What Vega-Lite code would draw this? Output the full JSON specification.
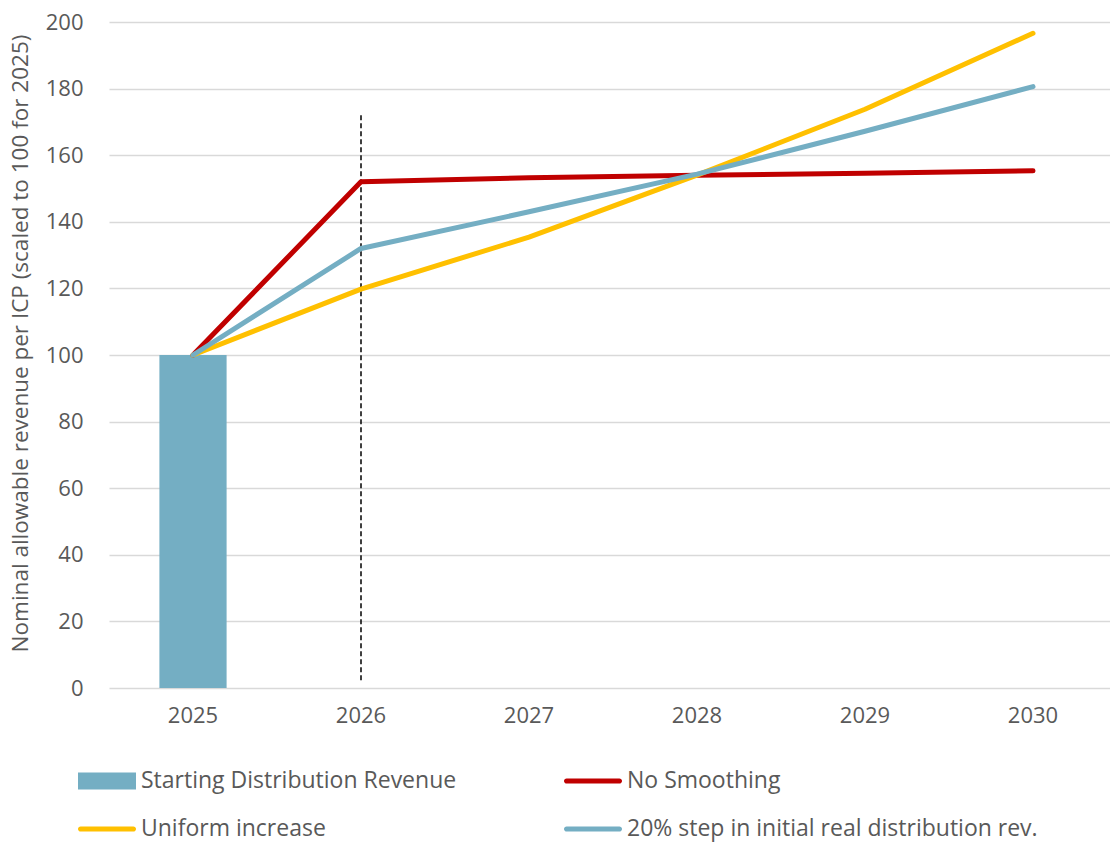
{
  "$schema": "https://vega.github.io/schema/vega-lite/v6.json",
  "autosize": "none",
  "width": 1008,
  "height": 666,
  "padding": {"left": 109, "top": 22, "right": 0, "bottom": 155},
  "background": "white",
  "config": {
    "view": {"stroke": null},
    "font": "Open Sans",
    "axis": {"labelColor": "#595959", "titleColor": "#595959", "labelFont": "Open Sans", "titleFont": "Open Sans"},
    "legend": {"labelFont": "Open Sans"}
  },
  "datasets": {
    "start": [
      {"year": "2025", "value": 100, "series": "Starting Distribution Revenue"}
    ],
    "paths": [
      {"year": "2025", "value": 100, "series": "No Smoothing"},
      {"year": "2026", "value": 152, "series": "No Smoothing"},
      {"year": "2027", "value": 153.2, "series": "No Smoothing"},
      {"year": "2028", "value": 154, "series": "No Smoothing"},
      {"year": "2029", "value": 154.6, "series": "No Smoothing"},
      {"year": "2030", "value": 155.3, "series": "No Smoothing"},
      {"year": "2025", "value": 100, "series": "Uniform increase"},
      {"year": "2026", "value": 119.8, "series": "Uniform increase"},
      {"year": "2027", "value": 135.4, "series": "Uniform increase"},
      {"year": "2028", "value": 154, "series": "Uniform increase"},
      {"year": "2029", "value": 173.8, "series": "Uniform increase"},
      {"year": "2030", "value": 196.6, "series": "Uniform increase"},
      {"year": "2025", "value": 100, "series": "20% step in initial real distribution rev."},
      {"year": "2026", "value": 132, "series": "20% step in initial real distribution rev."},
      {"year": "2027", "value": 143, "series": "20% step in initial real distribution rev."},
      {"year": "2028", "value": 154.3, "series": "20% step in initial real distribution rev."},
      {"year": "2029", "value": 167.2, "series": "20% step in initial real distribution rev."},
      {"year": "2030", "value": 180.6, "series": "20% step in initial real distribution rev."}
    ],
    "marker": [
      {"year": "2026", "top": 172, "bottom": 1.5}
    ]
  },
  "encoding": {
    "x": {
      "field": "year",
      "type": "nominal",
      "sort": ["2025", "2026", "2027", "2028", "2029", "2030"],
      "scale": {"domain": ["2025", "2026", "2027", "2028", "2029", "2030"], "paddingInner": 0, "paddingOuter": 0},
      "axis": {
        "title": null,
        "labelAngle": 0,
        "labelFontSize": 22,
        "labelPadding": 17,
        "ticks": false,
        "domain": false,
        "grid": false
      }
    }
  },
  "layer": [
    {
      "data": {"name": "start"},
      "mark": {"type": "bar", "width": {"band": 0.4}},
      "encoding": {
        "y": {
          "field": "value",
          "type": "quantitative",
          "scale": {"domain": [0, 200], "nice": false},
          "axis": {
            "values": [0, 20, 40, 60, 80, 100, 120, 140, 160, 180, 200],
            "title": "Nominal allowable revenue per ICP (scaled to 100 for 2025)",
            "titleFontSize": 22.5,
            "titleFontWeight": "normal",
            "titlePadding": 13,
            "titleY": 321,
            "labelFontSize": 22,
            "labelPadding": 26,
            "ticks": false,
            "domain": false,
            "grid": true,
            "gridColor": "#D9D9D9",
            "gridWidth": 1.5
          }
        },
        "color": {
          "field": "series",
          "type": "nominal",
          "scale": {
            "domain": ["Starting Distribution Revenue", "No Smoothing", "Uniform increase", "20% step in initial real distribution rev."],
            "range": ["#74AEC3", "#C00000", "#FFC000", "#74AEC3"]
          },
          "legend": {
            "title": null,
            "orient": "none",
            "legendX": -31,
            "legendY": 730,
            "columns": 2,
            "direction": "horizontal",
            "gridAlign": "each",
            "columnPadding": 106,
            "rowPadding": 7,
            "symbolSize": 3364,
            "symbolType": "square",
            "labelFontSize": 23,
            "labelColor": "#595959",
            "labelOffset": 5,
            "labelLimit": 600,
            "encoding": {
              "symbols": {
                "shape": {
                  "condition": {"test": "datum.value === 'Starting Distribution Revenue'", "value": "M-1,-0.293H1V0.293H-1Z"},
                  "value": "M-0.91,-0.09H0.91A0.09,0.09 0 0 1 0.91,0.09H-0.91A0.09,0.09 0 0 1 -0.91,-0.09Z"
                },
                "strokeWidth": {"value": 0}
              }
            }
          }
        }
      }
    },
    {
      "data": {"name": "marker"},
      "mark": {"type": "rule", "color": "#000000", "strokeWidth": 1.5, "strokeDash": [5, 3]},
      "encoding": {
        "x": {"field": "year", "type": "nominal", "bandPosition": 0.5},
        "y": {"field": "top", "type": "quantitative"},
        "y2": {"field": "bottom"}
      }
    },
    {
      "data": {"name": "paths"},
      "mark": {"type": "line", "strokeWidth": 5, "strokeCap": "round", "strokeJoin": "round"},
      "encoding": {
        "x": {"field": "year", "type": "nominal", "bandPosition": 0.5},
        "y": {"field": "value", "type": "quantitative"},
        "color": {"field": "series", "type": "nominal"},
        "order": {"field": "year"}
      }
    }
  ]
}
